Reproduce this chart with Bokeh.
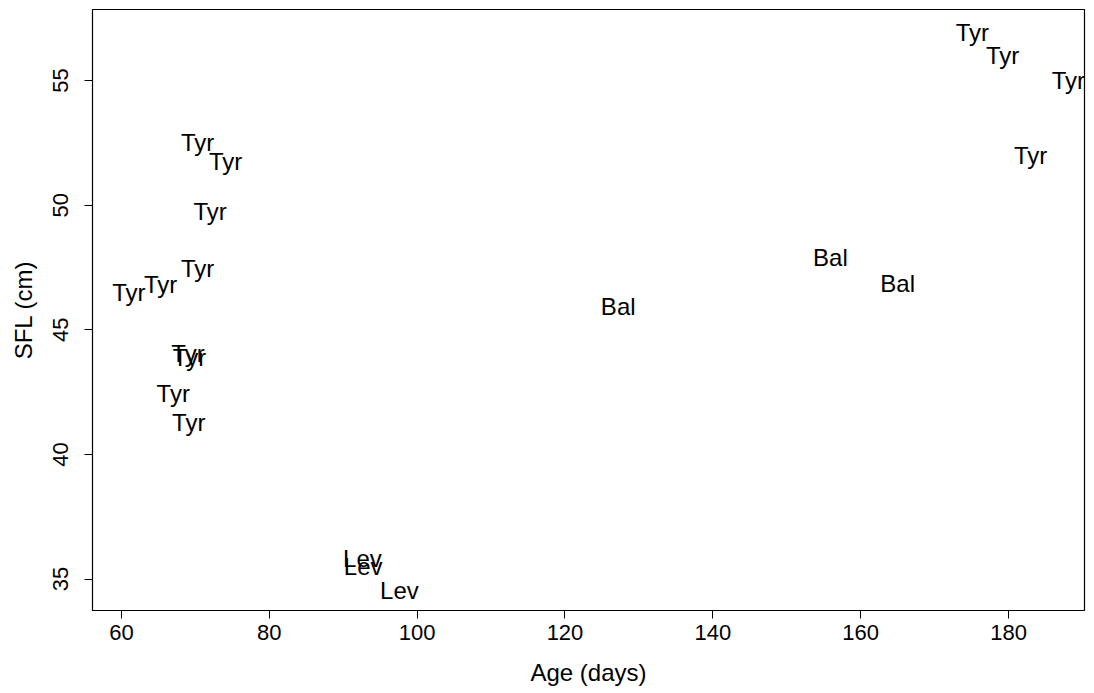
from bokeh.plotting import figure
from bokeh.models import ColumnDataSource, FixedTicker, Range1d
from bokeh.core.properties import value
from bokeh.embed import file_html
from bokeh.resources import INLINE

# Data (age in days, SFL in cm, population label)
age = [70.3, 74.1, 72.0, 70.3, 61.0, 65.3, 69.0, 69.2, 67.0, 69.1,
       175.1, 179.2, 188.1, 183.0,
       127.2, 155.9, 165.0,
       92.6, 92.7, 97.6]
sfl = [52.5, 51.75, 49.75, 47.45, 46.5, 46.8, 44.05, 43.9, 42.45, 41.3,
       56.93, 56.0, 55.0, 52.0,
       45.94, 47.9, 46.86,
       35.83, 35.5, 34.55]
pop = ["Tyr", "Tyr", "Tyr", "Tyr", "Tyr", "Tyr", "Tyr", "Tyr", "Tyr", "Tyr",
       "Tyr", "Tyr", "Tyr", "Tyr",
       "Bal", "Bal", "Bal",
       "Lev", "Lev", "Lev"]

x_ticks = [60, 80, 100, 120, 140, 160, 180]
y_ticks = [35, 40, 45, 50, 55]

FONT = "Liberation Sans"
FS_TICK = "22px"
FS_LAB = "24px"

src = ColumnDataSource(dict(x=age, y=sfl, t=pop))

p = figure(width=1086, height=690, output_backend="svg", toolbar_location=None,
           x_range=Range1d(56.08, 190.28), y_range=Range1d(33.74, 57.85),
           min_border_left=92, min_border_right=2, min_border_top=9,
           min_border_bottom=80)

p.text(x="x", y="y", text="t", source=src, text_align="center",
       text_baseline="middle", text_font=value(FONT), text_font_size=FS_LAB,
       text_color="black")

p.xgrid.visible = False
p.ygrid.visible = False
p.outline_line_color = "black"
p.outline_line_width = 1.2
p.background_fill_color = "white"
p.border_fill_color = "white"

p.xaxis.ticker = FixedTicker(ticks=x_ticks)
p.yaxis.ticker = FixedTicker(ticks=y_ticks)
p.xaxis.axis_label = "Age (days)"
p.yaxis.axis_label = "SFL (cm)"

for ax in (p.xaxis[0], p.yaxis[0]):
    ax.axis_line_color = None
    ax.major_tick_line_color = "black"
    ax.major_tick_out = 8
    ax.major_tick_in = 0
    ax.minor_tick_line_color = None
    ax.major_label_text_font = FONT
    ax.major_label_text_font_size = FS_TICK
    ax.major_label_text_color = "black"
    ax.axis_label_text_font = FONT
    ax.axis_label_text_font_size = FS_LAB
    ax.axis_label_text_font_style = "normal"
    ax.axis_label_text_color = "black"

p.xaxis.major_label_standoff = 6
p.xaxis.axis_label_standoff = 16
p.yaxis.major_label_orientation = "vertical"
p.yaxis.major_label_standoff = 16
p.yaxis.axis_label_standoff = 14

open("out.html", "w").write(file_html(p, INLINE))
